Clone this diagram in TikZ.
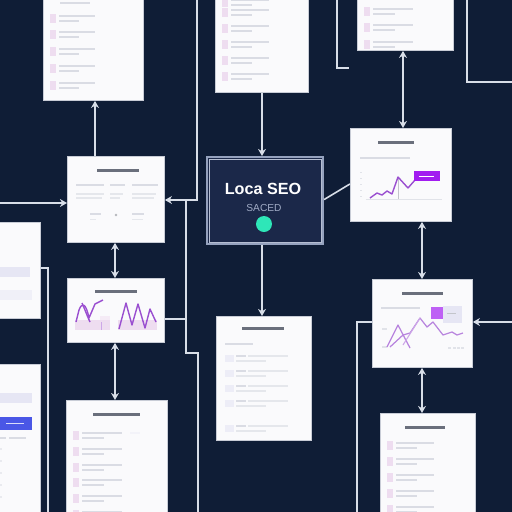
\documentclass[tikz,border=0pt]{standalone}
\usepackage{fontspec}
\setmainfont{Liberation Sans}
\usetikzlibrary{arrows.meta,calc}
\definecolor{bg}{HTML}{0F1D36}
\definecolor{cardfill}{HTML}{FAFAFC}
\definecolor{cardline}{HTML}{C8CCD6}
\definecolor{cnn}{HTML}{D8DEE8}
\definecolor{ttl}{HTML}{6A6F7C}
\definecolor{txl}{HTML}{DADCE4}
\definecolor{pinkq}{HTML}{EEDDF0}
\definecolor{purp}{HTML}{9A4FD0}
\definecolor{vio}{HTML}{A21CF0}
\definecolor{lav}{HTML}{E6E6F4}
\definecolor{btn}{HTML}{4A57E6}
\definecolor{cfill}{HTML}{1B2849}
\definecolor{cbord}{HTML}{95A2BE}
\definecolor{teal}{HTML}{2EE6B8}
\tikzset{
  card/.style={fill=cardfill, draw=cardline, line width=0.5pt, inner sep=0pt},
  conn/.style={draw=cnn, line width=0.9pt},
  tip/.style={-{Stealth[length=4pt,width=4.5pt]}},
  tipb/.style={{Stealth[length=4pt,width=4.5pt]}-{Stealth[length=4pt,width=4.5pt]}},
  tbar/.style={fill=ttl},
  lbar/.style={fill=txl},
  pq/.style={fill=pinkq},
  pline/.style={draw=purp, line width=0.8pt, line join=round},
}
\newcommand\cardnode[5]{\node[card, anchor=north west, minimum width=#4*0.02cm, minimum height=#5*0.02cm] (#1) at (#2,#3) {};}
% list item: x, y, line length
\newcommand\litem[3]{%
  \fill[pq] (#1,#2) rectangle ++(6,9);
  \fill[lbar] (#1+9,#2+1) rectangle ++(#3,2);
  \fill[lbar] (#1+9,#2+6) rectangle ++(#3*0.55,1.6);}
\begin{document}
\begin{tikzpicture}[x=0.02cm,y=-0.02cm]
\fill[bg] (0,0) rectangle (512,512);
\useasboundingbox (0,0) rectangle (512,512);
\clip (0,0) rectangle (512,512);

% ---------- free coordinates ----------
\coordinate (x95) at (95,0);
\coordinate (x262) at (262,0);
\coordinate (x403) at (403,0);
\coordinate (x115) at (115,0);
\coordinate (x422) at (422,0);
\coordinate (y203) at (0,203);
\coordinate (y200) at (0,200);
\coordinate (y319) at (0,319);
\coordinate (y322) at (0,322);
\coordinate (y268) at (0,268);
\coordinate (lin) at (0,203);
\coordinate (rin) at (512,322);
\coordinate (vtop) at (197,0);
\coordinate (vknee) at (197,200);
\coordinate (j186) at (186,200);
\coordinate (k186) at (186,353);
\coordinate (k198) at (198,353);
\coordinate (b198) at (198,512);
\coordinate (m186) at (186,319);
\coordinate (b357) at (357,512);
\coordinate (b48) at (48,512);
\coordinate (t467) at (467,0);
\coordinate (k467) at (467,82);
\coordinate (r82) at (512,82);
\coordinate (t337) at (337,0);
\coordinate (k337) at (337,68);
\coordinate (e348) at (349,68);

% ---------- connectors (behind cards) ----------
\draw[conn] (j186) -- (k186) -- (k198) -- (b198);
\draw[conn] (t467) -- (k467) -- (r82);
\draw[conn] (t337) -- (k337) -- (e348);

% ---------- cards ----------
\cardnode{c1}{43}{-5}{100}{105}
\cardnode{c2}{215}{-5}{93}{97}
\cardnode{c3}{357}{-5}{96}{55}
\cardnode{c4}{67}{156}{97}{86}
\cardnode{c6}{350}{128}{101}{93}
\cardnode{c7}{-5}{222}{45}{96}
\cardnode{c8}{67}{278}{97}{64}
\cardnode{c9}{372}{279}{100}{88}
\cardnode{c10}{216}{316}{95}{124}
\cardnode{c11}{-5}{364}{45}{153}
\cardnode{c12}{66}{400}{101}{117}
\cardnode{c13}{380}{413}{95}{104}

% center dark card
\node[fill=cfill, draw=cbord, line width=1.2pt, anchor=north west,
      minimum width=116*0.02cm, minimum height=87*0.02cm, inner sep=0pt] (c5) at (206,156) {};
\draw[cbord!70, line width=0.5pt] ($(c5.north west)+(3,3)$) rectangle ($(c5.south east)+(-3,-3)$);
\node[text=white, font=\bfseries\fontsize{9.2}{10}\selectfont, inner sep=0pt] (t5) at (263,189) {Loca SEO};
\node[text=cbord!90, font=\fontsize{5.8}{7}\selectfont, inner sep=0pt] (s5) at (264,208) {SACED};
\fill[teal] (264,224) circle (8);

% ---------- card contents ----------
% c1 list
\fill[lbar] (60,2) rectangle ++(30,2);
\foreach \yy in {14,30,47,64,81} {\litem{50}{\yy}{36}}
% c2 list
\foreach \yy in {-2,8,24,40,56,72} {\litem{222}{\yy}{38}}
% c3 list
\foreach \yy in {7,23,40} {\litem{364}{\yy}{40}}

% c4 overview
\fill[tbar] (97,169) rectangle (139,172);
\fill[txl] (76,184) rectangle (104,185.8);
\fill[txl] (110,184) rectangle (125,185.8);
\fill[txl] (132,184) rectangle (158,185.8);
\fill[txl!70] (76,193) rectangle (104,194.5);
\fill[txl!70] (76,197) rectangle (102,198.5);
\fill[txl!70] (110,193) rectangle (123,194.5);
\fill[txl!70] (110,197) rectangle (120,198.5);
\fill[txl!70] (132,193) rectangle (156,194.5);
\fill[txl!70] (132,197) rectangle (154,198.5);
\fill[txl] (90,213) rectangle (101,214.5);
\fill[txl] (132,213) rectangle (144,214.5);
\fill[ttl!50] (116,215) circle (1.3);
\fill[txl!70] (90,219) rectangle (96,220.2);
\fill[txl!70] (132,219) rectangle (143,220.2);

% c6 chart
\fill[tbar] (378,141) rectangle (414,144);
\fill[txl] (360,157) rectangle (410,158.5);
\foreach \yy in {172,178,184,190,196} {\fill[txl!80] (360,\yy) rectangle ++(2,1);}
\draw[txl!80] (366,199) -- (442,199);
\draw[ttl!40, line width=0.3pt] (398,177) -- (398,199);
\draw[pline] (370,198) -- (377,193) -- (382,195) -- (387,191) -- (392,194) -- (398,177) -- (408,188) -- (415,180);
\fill[vio] (414,171) rectangle (440,181);
\fill[white] (419,175.5) rectangle (434,176.8);

% c7 partial
\fill[lav] (0,267) rectangle (30,277);
\fill[lav!60] (0,290) rectangle (32,300);

% c8 charts
\fill[tbar] (95,290) rectangle (137,293);
\fill[pinkq] (75,320) rectangle (110,330);
\fill[pinkq] (118,320) rectangle (157,330);
\fill[pinkq!60] (100,316) rectangle (110,320);
\draw[pline] (76,322) -- (79,310) .. controls (82,302) and (86,303) .. (89,318) -- (95,304) -- (103,300);
\draw[pline] (82,303) .. controls (86,312) and (88,318) .. (90,322);
\draw[pline] (119,329) -- (126,303) -- (132,325) -- (138,304) -- (145,328) -- (150,309) -- (156,322);
\draw[purp!50, line width=0.5pt] (101,322) -- (101,330);

% c9 chart
\fill[tbar] (402,292) rectangle (443,295);
\fill[txl] (381,307) rectangle (420,308.5);
\fill[lav] (443,306) rectangle (462,323);
\fill[vio!70] (431,307) rectangle (443,319);
\fill[ttl!40] (447,313) rectangle (456,314.3);
\fill[txl!80] (382,346) rectangle ++(5,1.5);
\fill[txl!80] (382,328) rectangle ++(5,1.5);
\foreach \xx in {448,453,457,461} {\fill[txl!80] (\xx,347) rectangle ++(3,1.5);}
\draw[purp!70, line width=0.7pt, line join=round] (387,347) -- (398,325) -- (410,348);
\draw[purp!70, line width=0.7pt, line join=round] (390,347) -- (403,335) -- (410,333) -- (420,318) -- (427,327) -- (433,322) -- (443,335) -- (452,332) -- (457,335) -- (463,333);
\draw[purp!50, line width=0.6pt] (403,345) -- (420,318);

% c10 list
\fill[tbar] (242,327) rectangle (284,330);
\fill[txl] (225,343) rectangle (253,345);
\foreach \yy in {355,370,385,400,425} {
  \fill[lav!70] (225,\yy) rectangle ++(9,7);
  \fill[txl] (236,\yy) rectangle ++(10,2);
  \fill[txl!70] (248,\yy) rectangle ++(40,1.5);
  \fill[txl!70] (236,\yy+5) rectangle ++(30,1.5);}

% c11 partial
\fill[lav] (0,393) rectangle (32,403);
\fill[btn] (0,417) rectangle (32,430);
\fill[white!80!btn] (6,423) rectangle (24,424.2);
\fill[txl] (0,437) rectangle (6,438.5);
\fill[txl] (9,437) rectangle (26,438.5);
\foreach \yy in {448,460,472,484,496} {\fill[txl!60] (0,\yy) rectangle ++(2,2);}

% c12 list
\fill[tbar] (93,413) rectangle (140,416);
\fill[lav!50] (130,432) rectangle (140,434);
\foreach \yy in {431,447,463,478,494,510} {\litem{73}{\yy}{40}}

% c13 list
\fill[tbar] (405,426) rectangle (445,429);
\foreach \yy in {441,457,473,489,505} {\litem{387}{\yy}{38}}

% ---------- connectors with tips ----------
\draw[conn,tip] (c4.north -| x95) -- (c1.south -| x95);
\draw[conn,tip] (c2.south -| x262) -- (c5.north -| x262);
\draw[conn,tipb] (c3.south -| x403) -- (c6.north -| x403);
\draw[conn] ($(c5.east)+(0,-1)$) -- ($(c6.west)+(0,9)$);
\draw[conn,tip] (lin) -- (c4.west |- y203);
\draw[conn,tip] (vtop) -- (vknee) -- (c4.east |- y200);
\draw[conn,tipb] (c4.south -| x115) -- (c8.north -| x115);
\draw[conn,tipb] (c8.south -| x115) -- (c12.north -| x115);
\draw[conn] (c8.east |- y319) -- (m186);
\draw[conn,tip] (c5.south -| x262) -- (c10.north -| x262);
\draw[conn,tipb] (c6.south -| x422) -- (c9.north -| x422);
\draw[conn,tipb] (c9.south -| x422) -- (c13.north -| x422);
\draw[conn,tip] (rin) -- (c9.east |- y322);
\draw[conn] (c9.west |- y322) -| (b357);
\draw[conn] (c7.east |- y268) -| (b48);
\end{tikzpicture}
\end{document}
